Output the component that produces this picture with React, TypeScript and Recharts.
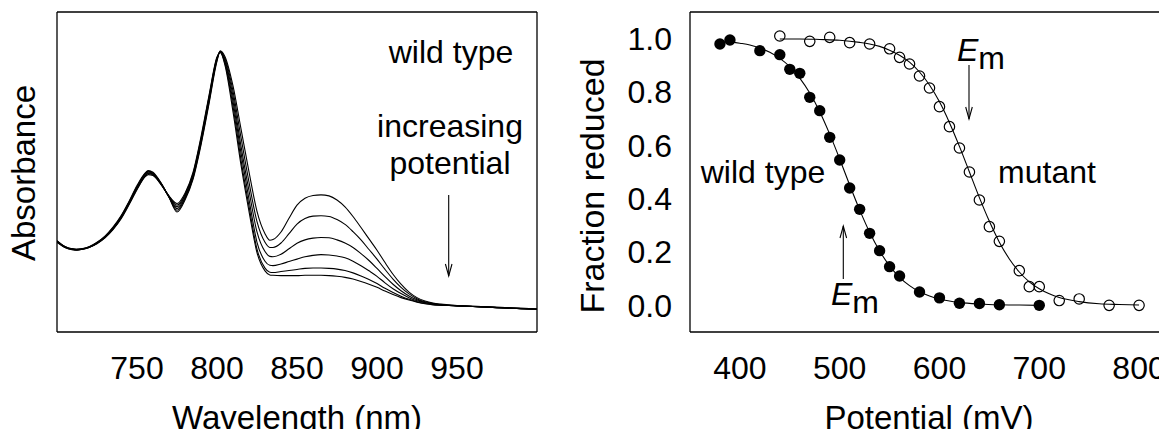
import React from 'react';
import { LineChart, ComposedChart, Line, Scatter, XAxis, YAxis } from 'recharts';

const FONT = '"Liberation Sans", Arial, Helvetica, sans-serif';

// spectra (nm vs absorbance), lowest potential first
const wavelengths = [
  700, 705, 710, 712, 715, 720, 725, 730, 735, 740, 745, 750, 755, 757, 760, 765, 770, 775, 780, 785,
  790, 795, 800, 802, 805, 810, 815, 820, 825, 830, 833, 835, 840, 845, 850, 855, 860, 865, 870, 875,
  880, 885, 890, 895, 900, 905, 910, 915, 920, 925, 930, 935, 940, 945, 950, 960, 970, 980, 990, 1000,
];
const spectrum1 = [
  0.200, 0.183, 0.176, 0.175, 0.176, 0.182, 0.195, 0.213, 0.239, 0.272, 0.314, 0.360, 0.396, 0.404, 0.399, 0.368, 0.326, 0.283, 0.318, 0.378,
  0.478, 0.598, 0.722, 0.752, 0.735, 0.650, 0.525, 0.400, 0.285, 0.220, 0.201, 0.203, 0.225, 0.265, 0.303, 0.323, 0.331, 0.333, 0.330, 0.318,
  0.298, 0.270, 0.238, 0.205, 0.172, 0.136, 0.102, 0.073, 0.050, 0.034, 0.024, 0.018, 0.015, 0.013, 0.011, 0.009, 0.007, 0.005, 0.003, 0.001,
];
const spectrum2 = [
  0.199, 0.182, 0.175, 0.174, 0.175, 0.181, 0.194, 0.212, 0.237, 0.270, 0.312, 0.357, 0.394, 0.402, 0.397, 0.367, 0.326, 0.288, 0.322, 0.382,
  0.483, 0.603, 0.725, 0.751, 0.730, 0.635, 0.500, 0.370, 0.255, 0.195, 0.180, 0.180, 0.193, 0.220, 0.248, 0.264, 0.271, 0.272, 0.270, 0.261,
  0.247, 0.226, 0.202, 0.174, 0.146, 0.116, 0.088, 0.064, 0.045, 0.031, 0.022, 0.017, 0.014, 0.012, 0.011, 0.009, 0.007, 0.005, 0.003, 0.001,
];
const spectrum3 = [
  0.198, 0.182, 0.175, 0.174, 0.175, 0.181, 0.193, 0.211, 0.236, 0.268, 0.310, 0.355, 0.392, 0.400, 0.395, 0.366, 0.327, 0.293, 0.326, 0.386,
  0.488, 0.608, 0.728, 0.750, 0.725, 0.620, 0.475, 0.345, 0.225, 0.168, 0.154, 0.153, 0.160, 0.176, 0.192, 0.202, 0.207, 0.209, 0.208, 0.202,
  0.193, 0.180, 0.162, 0.142, 0.119, 0.095, 0.073, 0.054, 0.039, 0.028, 0.020, 0.016, 0.013, 0.012, 0.010, 0.008, 0.006, 0.004, 0.002, 0.000,
];
const spectrum4 = [
  0.197, 0.181, 0.174, 0.173, 0.174, 0.180, 0.192, 0.210, 0.234, 0.266, 0.308, 0.352, 0.389, 0.397, 0.393, 0.365, 0.328, 0.298, 0.330, 0.390,
  0.492, 0.613, 0.730, 0.749, 0.720, 0.605, 0.455, 0.320, 0.195, 0.140, 0.128, 0.127, 0.132, 0.139, 0.146, 0.153, 0.157, 0.159, 0.158, 0.155,
  0.150, 0.140, 0.127, 0.112, 0.096, 0.077, 0.060, 0.046, 0.034, 0.025, 0.019, 0.015, 0.013, 0.011, 0.010, 0.008, 0.006, 0.004, 0.002, 0.000,
];
const spectrum5 = [
  0.196, 0.180, 0.174, 0.173, 0.174, 0.180, 0.192, 0.209, 0.233, 0.265, 0.306, 0.350, 0.387, 0.395, 0.391, 0.364, 0.329, 0.303, 0.334, 0.394,
  0.497, 0.618, 0.732, 0.748, 0.715, 0.590, 0.435, 0.300, 0.175, 0.120, 0.108, 0.107, 0.110, 0.113, 0.116, 0.119, 0.120, 0.120, 0.119, 0.117,
  0.113, 0.106, 0.097, 0.087, 0.075, 0.061, 0.049, 0.038, 0.029, 0.022, 0.017, 0.014, 0.012, 0.011, 0.010, 0.008, 0.006, 0.004, 0.002, 0.000,
];
const spectrum6 = [
  0.195, 0.180, 0.173, 0.172, 0.174, 0.180, 0.191, 0.208, 0.232, 0.263, 0.304, 0.348, 0.385, 0.392, 0.389, 0.363, 0.330, 0.308, 0.338, 0.398,
  0.502, 0.622, 0.734, 0.747, 0.710, 0.575, 0.420, 0.285, 0.165, 0.112, 0.100, 0.099, 0.098, 0.098, 0.098, 0.099, 0.099, 0.099, 0.098, 0.096,
  0.093, 0.088, 0.081, 0.073, 0.064, 0.053, 0.043, 0.034, 0.027, 0.021, 0.016, 0.013, 0.012, 0.011, 0.010, 0.008, 0.006, 0.004, 0.002, 0.000,
];
const spectrumKeys = ['s1', 's2', 's3', 's4', 's5', 's6'];

const wavelengthTicks = [750, 800, 850, 900, 950];
const absorbanceTicks = [0, 0.2, 0.4, 0.6, 0.8];

// redox titration
const wtPotential = [380, 390, 420, 440, 450, 460, 470, 480, 490, 500, 510, 520, 530, 540, 550, 560, 580, 600, 620, 640, 660, 700];
const wtFraction = [0.98, 0.995, 0.955, 0.94, 0.885, 0.87, 0.78, 0.73, 0.63, 0.545, 0.44, 0.36, 0.27, 0.205, 0.145, 0.11, 0.05, 0.028, 0.008, 0.007, 0.002, 0.0];
const wtFitPotential = [390, 400, 410, 420, 430, 440, 450, 460, 470, 480, 490, 500, 510, 520, 530, 540, 550, 560, 570, 580, 590, 600, 620, 640, 660, 680, 700];
const wtFitFraction = [0.989, 0.983, 0.976, 0.965, 0.949, 0.926, 0.895, 0.852, 0.796, 0.726, 0.642, 0.549, 0.451, 0.358, 0.274, 0.204, 0.148, 0.105, 0.074, 0.051, 0.035, 0.024, 0.011, 0.005, 0.002, 0.001, 0.0];

const mutantPotential = [440, 470, 490, 510, 530, 550, 560, 570, 580, 590, 600, 610, 620, 630, 640, 650, 660, 680, 690, 700, 720, 740, 770, 800];
const mutantFraction = [1.01, 0.99, 1.005, 0.985, 0.98, 0.962, 0.93, 0.905, 0.86, 0.815, 0.745, 0.67, 0.59, 0.5, 0.395, 0.295, 0.24, 0.13, 0.07, 0.07, 0.018, 0.024, 0.0, 0.0];
const mutantFitPotential = [440, 460, 480, 500, 520, 530, 540, 550, 560, 570, 580, 590, 600, 610, 620, 630, 640, 650, 660, 670, 680, 690, 700, 710, 720, 740, 760, 780, 800];
const mutantFitFraction = [0.999, 0.999, 0.997, 0.994, 0.986, 0.98, 0.971, 0.957, 0.938, 0.912, 0.875, 0.826, 0.763, 0.685, 0.596, 0.5, 0.404, 0.315, 0.237, 0.174, 0.125, 0.088, 0.062, 0.043, 0.029, 0.014, 0.006, 0.003, 0.001];

const potentialTicks = [400, 500, 600, 700, 800];
const fractionTicks = [0, 0.2, 0.4, 0.6, 0.8, 1.0];

const toPoints = (xs: number[], ys: number[]) => xs.map((e, i) => ({ e, f: ys[i] }));

const spectraRows = wavelengths.map((wl, i) => ({
  wl,
  s1: spectrum1[i],
  s2: spectrum2[i],
  s3: spectrum3[i],
  s4: spectrum4[i],
  s5: spectrum5[i],
  s6: spectrum6[i],
}));

const tickText = { fontSize: 32, fill: '#000', fontFamily: FONT };
const frame = { stroke: '#000', strokeWidth: 1.3 };

function Arrow({ x, from, to }: { x: number; from: number; to: number }) {
  const dir = to > from ? 1 : -1;
  return (
    <g stroke="#000" strokeWidth={1.1} fill="none">
      <line x1={x} y1={from} x2={x} y2={to} />
      <polyline points={`${x - 3.3},${to - dir * 12} ${x},${to} ${x + 3.3},${to - dir * 12}`} />
    </g>
  );
}

function Em({ x, y }: { x: number; y: number }) {
  return (
    <text x={x} y={y} fontSize={32} fontFamily={FONT} fill="#000">
      <tspan fontStyle="italic">E</tspan>
      <tspan dy={7.5}>m</tspan>
    </text>
  );
}

export default function App() {
  return (
    <div style={{ position: 'relative', width: 1167, height: 437, margin: -8, overflow: 'hidden', background: '#fff' }}>
      <div style={{ position: 'absolute', left: 0, top: 0 }}>
        <LineChart width={560} height={437} data={spectraRows} margin={{ top: 12, right: 23, bottom: 0, left: 57 }}>
          <XAxis xAxisId="b" dataKey="wl" type="number" domain={[700, 1000]} ticks={wavelengthTicks} allowDataOverflow
            height={105} tickSize={0} tickMargin={24} tickLine={false} axisLine={frame} tick={tickText} />
          <XAxis xAxisId="bt" dataKey="wl" type="number" domain={[700, 1000]} ticks={wavelengthTicks} allowDataOverflow
            orientation="bottom" mirror tick={false} tickSize={10} axisLine={false} tickLine={frame} />
          <XAxis xAxisId="t" dataKey="wl" type="number" domain={[700, 1000]} ticks={wavelengthTicks} allowDataOverflow
            orientation="top" mirror tick={false} tickSize={10} axisLine={frame} tickLine={frame} />
          <YAxis yAxisId="l" type="number" domain={[-0.066, 0.865]} ticks={absorbanceTicks} allowDataOverflow
            orientation="left" mirror tick={false} tickSize={10} axisLine={frame} tickLine={frame} />
          <YAxis yAxisId="r" type="number" domain={[-0.066, 0.865]} ticks={absorbanceTicks} allowDataOverflow
            orientation="right" mirror tick={false} tickSize={10} axisLine={frame} tickLine={frame} />
          {spectrumKeys.map((k) => (
            <Line key={k} xAxisId="b" yAxisId="l" type="monotone" dataKey={k} stroke="#000" strokeWidth={1.1}
              dot={false} isAnimationActive={false} />
          ))}
        </LineChart>
      </div>

      <div style={{ position: 'absolute', left: 590, top: 0 }}>
        <ComposedChart width={590} height={437} margin={{ top: 12, right: 12, bottom: 0, left: 0 }}>
          <XAxis xAxisId="b" dataKey="e" type="number" domain={[350, 829]} ticks={potentialTicks} allowDataOverflow
            height={105} tickSize={0} tickMargin={24} tickLine={false} axisLine={frame} tick={tickText} />
          <XAxis xAxisId="bt" dataKey="e" type="number" domain={[350, 829]} ticks={potentialTicks} allowDataOverflow
            orientation="bottom" mirror tick={false} tickSize={10} axisLine={false} tickLine={frame} />
          <XAxis xAxisId="t" dataKey="e" type="number" domain={[350, 829]} ticks={potentialTicks} allowDataOverflow
            orientation="top" mirror tick={false} tickSize={10} axisLine={frame} tickLine={frame} />
          <YAxis yAxisId="l" dataKey="f" type="number" domain={[-0.1, 1.1]} ticks={fractionTicks} allowDataOverflow
            width={100} tickSize={0} tickMargin={18} tickLine={false} axisLine={frame} tick={tickText}
            tickFormatter={(v: number) => v.toFixed(1)} />
          <YAxis yAxisId="lt" dataKey="f" type="number" domain={[-0.1, 1.1]} ticks={fractionTicks} allowDataOverflow
            orientation="left" mirror tick={false} tickSize={10} axisLine={false} tickLine={frame} />
          <YAxis yAxisId="r" dataKey="f" type="number" domain={[-0.1, 1.1]} ticks={fractionTicks} allowDataOverflow
            orientation="right" mirror tick={false} tickSize={10} axisLine={frame} tickLine={frame} />
          <Line data={toPoints(wtFitPotential, wtFitFraction)} xAxisId="b" yAxisId="l" type="monotone" dataKey="f"
            stroke="#000" strokeWidth={1.1} dot={false} isAnimationActive={false} />
          <Line data={toPoints(mutantFitPotential, mutantFitFraction)} xAxisId="b" yAxisId="l" type="monotone" dataKey="f"
            stroke="#000" strokeWidth={1.1} dot={false} isAnimationActive={false} />
          <Scatter data={toPoints(wtPotential, wtFraction)} xAxisId="b" yAxisId="l" dataKey="f" isAnimationActive={false}
            shape={(p: any) => <circle cx={p.cx} cy={p.cy} r={5.7} fill="#000" />} />
          <Scatter data={toPoints(mutantPotential, mutantFraction)} xAxisId="b" yAxisId="l" dataKey="f" isAnimationActive={false}
            shape={(p: any) => <circle cx={p.cx} cy={p.cy} r={5.2} fill="none" stroke="#000" strokeWidth={1.2} />} />
        </ComposedChart>
      </div>

      <svg width={1167} height={437} style={{ position: 'absolute', left: 0, top: 0, pointerEvents: 'none' }}
        fontFamily={FONT} fill="#000">
        {/* axis titles */}
        <text x={297} y={429} fontSize={33} textAnchor="middle">Wavelength (nm)</text>
        <text x={929} y={429} fontSize={33} textAnchor="middle">Potential (mV)</text>
        <text x={35} y={173} fontSize={33} textAnchor="middle" transform="rotate(-90 35 173)">Absorbance</text>
        <text x={604} y={186} fontSize={34} textAnchor="middle" transform="rotate(-90 604 186)">Fraction reduced</text>

        {/* left panel notes */}
        <text x={451} y={63} fontSize={32} textAnchor="middle">wild type</text>
        <text x={450} y={137} fontSize={32} textAnchor="middle">increasing</text>
        <text x={450} y={174} fontSize={32} textAnchor="middle">potential</text>
        <Arrow x={448.7} from={195} to={276} />

        {/* right panel notes */}
        <text x={763} y={183} fontSize={32} textAnchor="middle">wild type</text>
        <text x={1047} y={183} fontSize={32} textAnchor="middle">mutant</text>
        <Em x={957} y={61} />
        <Arrow x={969} from={65} to={119} />
        <Em x={831} y={305} />
        <Arrow x={843.3} from={279} to={226} />
      </svg>
    </div>
  );
}
